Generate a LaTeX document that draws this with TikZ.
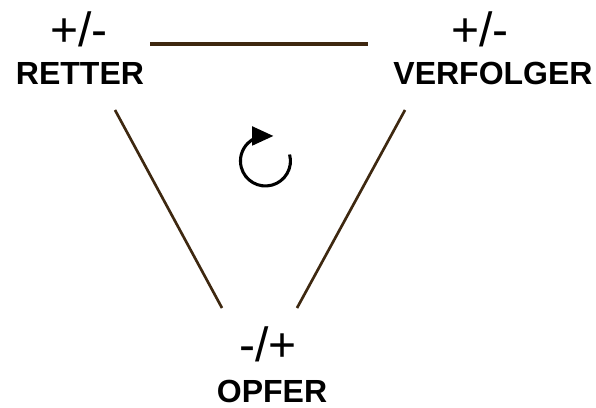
\documentclass[tikz,border=0pt]{standalone}
\usepackage{fontspec}
\setmainfont{Liberation Sans}
\usetikzlibrary{positioning,arrows,arrows.meta}
\definecolor{linebrown}{RGB}{62,40,16}

\begin{document}
\begin{tikzpicture}[x=0.75pt, y=-0.75pt]
    \tikzset{
        sign/.style={anchor=base, inner sep=0pt, font=\fontsize{36}{36}\selectfont},
        role/.style={anchor=base, inner sep=0pt, font=\fontsize{24}{24}\selectfont\bfseries},
        side/.style={draw=linebrown, line width=2pt},
        cycle/.style={draw=black, line width=2.3pt}
    }
    \useasboundingbox (0,0) rectangle (596,407);
    %
    \node[sign] (rettersign) at (79,46) {+/-};
    \node[role] (retter) at (80,84) {RETTER};
    \node[sign] (verfolgersign) at (480,46) {+/-};
    \node[role] (verfolger) at (493,84) {VERFOLGER};
    \node[sign] (opfersign) at (268,361) {-/+};
    \node[role] (opfer) at (272,402) {OPFER};
    %
    \coordinate (topL) at (150,44);
    \coordinate (topR) at (368,44);
    \coordinate (leftT) at (115,110);
    \coordinate (leftB) at (222,308);
    \coordinate (rightT) at (405,110);
    \coordinate (rightB) at (297,308);
    \draw[side, line width=3pt] (topL) -- (topR);
    \draw[side] (leftT) -- (leftB);
    \draw[side] (rightT) -- (rightB);
    %
    \coordinate (cyclestart) at (289.6,154.5);
    \draw[cycle, -{Triangle[length=16pt, width=14pt]}] (cyclestart) arc[start angle=-15, end angle=270, radius=25] -- ++(8,0);
\end{tikzpicture}
\end{document}
